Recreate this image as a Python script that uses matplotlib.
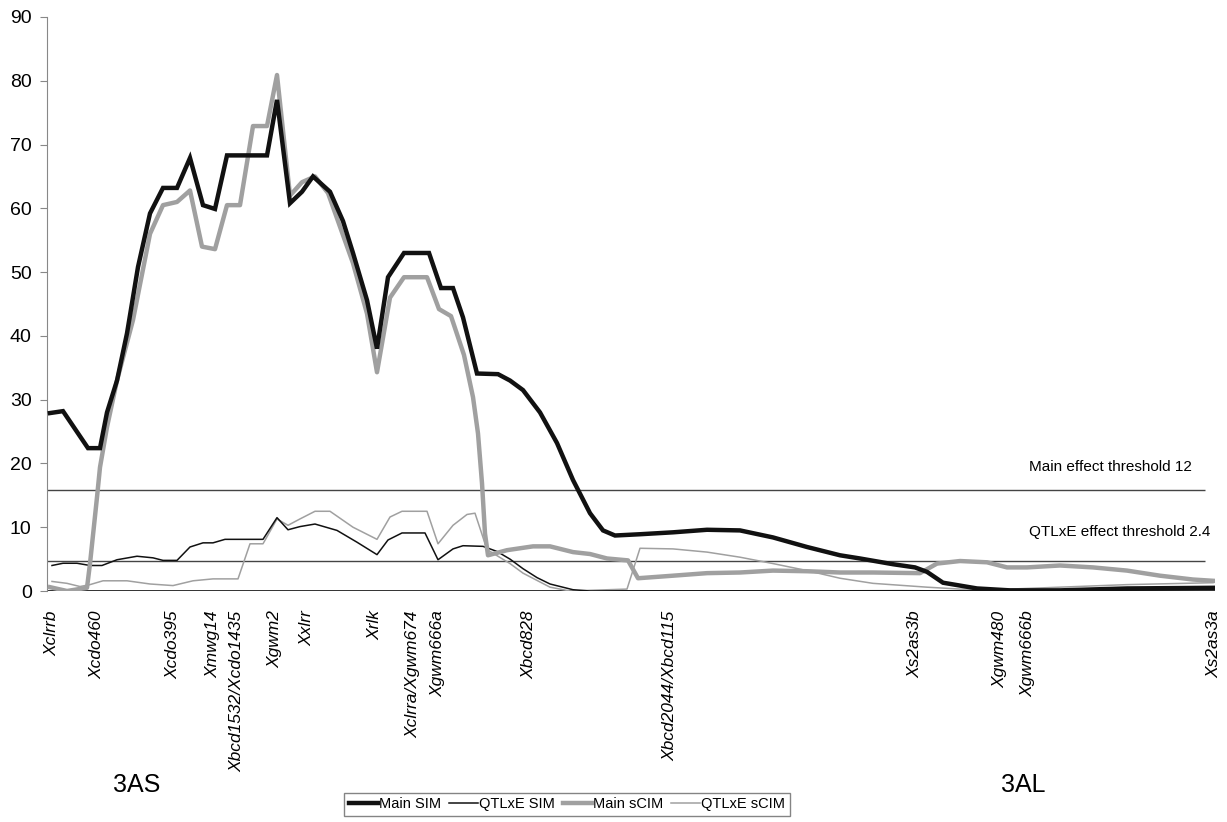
import matplotlib
matplotlib.use("Agg")
import matplotlib.pyplot as plt

# Marker positions (cM-like units) and names
marker_pos = [0.2, 4.7, 12.3, 16.3, 18.7, 22.5, 25.7, 32.5, 36.3, 38.8, 47.9, 62.0, 86.5, 95.0, 97.8, 116.4]
marker_names = ["Xclrrb", "Xcdo460", "Xcdo395", "Xmwg14", "Xbcd1532/Xcdo1435", "Xgwm2", "Xxlrr",
                "Xrlk", "Xclrra/Xgwm674", "Xgwm666a", "Xbcd828", "Xbcd2044/Xbcd115",
                "Xs2as3b", "Xgwm480", "Xgwm666b", "Xs2as3a"]

# Main SIM
main_sim_x = [0.0, 1.3, 3.8, 5.0, 5.7, 6.7, 7.7, 8.8, 10.0, 11.3, 12.7, 14.0, 15.3, 16.5, 17.7, 21.7,
              22.7, 24.0, 25.2, 26.3, 28.0, 29.3, 30.3, 31.7, 32.7, 33.8, 35.4, 37.9, 39.1, 40.3,
              41.3, 42.7, 44.8, 46.0, 47.3, 49.0, 50.7, 52.3, 54.0, 55.3, 56.5, 59.0, 62.3, 65.7,
              69.0, 72.3, 75.7, 79.0, 81.0, 84.3, 86.5, 87.7, 89.3, 92.7, 96.0, 101.0, 107.7, 116.3]
main_sim_y = [27.9, 28.2, 22.4, 22.4, 28.0, 33.0, 40.4, 50.8, 59.2, 63.2, 63.2, 67.9, 60.5, 59.9, 68.3, 68.3,
              77.0, 60.8, 62.6, 65.0, 62.6, 58.0, 53.0, 45.6, 38.0, 49.2, 53.0, 53.0, 47.5, 47.5,
              42.9, 34.1, 34.0, 33.0, 31.5, 28.0, 23.2, 17.4, 12.2, 9.5, 8.7, 8.9, 9.2, 9.6,
              9.5, 8.4, 6.9, 5.6, 5.1, 4.2, 3.7, 3.0, 1.3, 0.4, 0.1, 0.1, 0.4, 0.5]

# Main sCIM
main_scim_x = [0.0, 1.7, 3.7, 4.0, 4.7, 5.0, 5.7, 6.7, 8.3, 10.0, 11.3, 12.7, 14.0, 15.2, 16.5, 17.7,
               19.0, 20.3, 21.7, 22.7, 24.0, 25.2, 26.5, 27.8, 30.3, 31.7, 32.7, 34.0, 35.4, 37.7,
               38.9, 40.1, 41.4, 42.3, 42.8, 43.2, 43.5, 43.8, 45.7, 48.3, 50.0, 52.3, 54.0, 55.7,
               57.8, 58.8, 62.3, 65.7, 69.0, 72.3, 75.7, 79.0, 82.3, 87.0, 88.7, 91.0, 93.7, 95.7,
               97.7, 101.0, 104.3, 107.7, 111.0, 114.3, 116.3]
main_scim_y = [0.6, 0.0, 0.5, 4.3, 14.7, 19.4, 25.7, 33.0, 42.5, 56.0, 60.5, 61.0, 62.8, 54.0, 53.6, 60.5,
               60.5, 72.9, 72.9, 80.9, 62.0, 64.1, 65.0, 62.4, 51.4, 43.5, 34.3, 46.0, 49.2, 49.2,
               44.2, 43.1, 37.0, 30.4, 24.7, 16.9, 9.0, 5.6, 6.4, 7.0, 7.0, 6.1, 5.8, 5.1,
               4.8, 2.0, 2.4, 2.8, 2.9, 3.2, 3.1, 2.9, 2.9, 2.8, 4.3, 4.7, 4.5, 3.7,
               3.7, 4.0, 3.7, 3.2, 2.4, 1.8, 1.6]

# QTLxE SIM
qtle_sim_x = [0.2, 1.3, 2.7, 4.0, 5.2, 6.7, 8.7, 10.3, 11.3, 12.7, 14.0, 15.3, 16.3, 17.5, 21.3, 22.7,
              23.8, 25.0, 26.5, 28.7, 30.7, 32.7, 33.8, 35.2, 37.5, 38.8, 40.3, 41.3, 43.3, 44.7,
              46.0, 47.3, 48.7, 50.0, 52.3, 54.0, 65.0, 85.0, 95.0, 105.0, 116.3]
qtle_sim_y = [4.0, 4.35, 4.35, 4.0, 4.0, 4.9, 5.45, 5.2, 4.8, 4.8, 6.9, 7.55, 7.55, 8.1, 8.1, 11.5,
              9.6, 10.1, 10.5, 9.5, 7.65, 5.7, 8.0, 9.1, 9.1, 4.9, 6.6, 7.1, 7.0, 6.2,
              5.0, 3.5, 2.1, 1.1, 0.2, 0.0, 0.0, 0.05, 0.0, 0.1, 0.3]

# QTLxE sCIM
qtle_scim_x = [0.2, 1.7, 3.0, 4.0, 5.3, 7.7, 10.0, 12.3, 14.3, 16.3, 18.8, 20.0, 21.3, 22.7, 23.8, 25.0,
               26.5, 28.0, 30.3, 32.7, 34.0, 35.2, 37.7, 38.8, 40.3, 41.7, 42.5, 43.7, 46.0, 47.3,
               50.0, 52.0, 57.7, 59.0, 62.3, 65.7, 69.0, 72.3, 75.7, 79.0, 82.3, 87.7, 91.0, 96.0,
               101.0, 107.7, 116.3]
qtle_scim_y = [1.5, 1.2, 0.7, 1.0, 1.6, 1.6, 1.1, 0.85, 1.6, 1.9, 1.9, 7.4, 7.4, 11.3, 10.3, 11.3,
               12.5, 12.5, 10.0, 8.1, 11.6, 12.5, 12.5, 7.4, 10.3, 12.0, 12.2, 6.5, 4.3, 2.8,
               0.6, 0.0, 0.3, 6.7, 6.6, 6.1, 5.3, 4.3, 3.2, 2.0, 1.2, 0.6, 0.3, 0.3,
               0.6, 1.0, 1.3]

main_threshold = 15.8
qtle_threshold = 4.65
threshold_labels = ["Main effect threshold 12", "QTLxE effect threshold 2.4"]
arm_labels = ["3AS", "3AL"]
legend_labels = ["Main SIM", "QTLxE SIM", "Main sCIM", "QTLxE sCIM"]
yticks = [0, 10, 20, 30, 40, 50, 60, 70, 80, 90]

plt.rcParams['font.family'] = ['Liberation Sans', 'DejaVu Sans']

fig = plt.figure(figsize=(12.27, 8.22), dpi=100)
ax = fig.add_axes([47/1227, 1 - 591/822, (1215 - 47)/1227, (591 - 17)/822])

GREY = '#a0a0a0'
l1, = ax.plot(main_sim_x, main_sim_y, color='#111111', lw=3.2, solid_joinstyle='miter', zorder=5)
l2, = ax.plot(qtle_sim_x, qtle_sim_y, color='#111111', lw=1.1, zorder=4)
l3, = ax.plot(main_scim_x, main_scim_y, color=GREY, lw=3.2, zorder=4.5)
l4, = ax.plot(qtle_scim_x, qtle_scim_y, color=GREY, lw=1.1, zorder=3)

ax.hlines([main_threshold, qtle_threshold], -0.3, 115.5, color='#444444', lw=1.0, zorder=2)
ax.axhline(0, color='#222222', lw=1.3, zorder=2)

ax.text(97.9, 19.4, threshold_labels[0], fontsize=11, va='center', ha='left')
ax.text(97.9, 9.2, threshold_labels[1], fontsize=11, va='center', ha='left')

ax.set_xlim(-0.3, 116.5)
ax.set_ylim(0, 90)
ax.set_yticks(yticks)
ax.tick_params(axis='y', labelsize=14, length=5, width=0.8, color='#888888', pad=6)
ax.set_xticks(marker_pos)
ax.set_xticklabels(marker_names, rotation=90, style='italic', fontsize=12.5)
ax.tick_params(axis='x', length=0, pad=14)

for s in ['top', 'right', 'bottom']:
    ax.spines[s].set_visible(False)
ax.spines['left'].set_color('#888888')
ax.spines['left'].set_linewidth(0.8)

fig.text(137/1227, 1 - 785/822, arm_labels[0], fontsize=18, ha='center', va='center')
fig.text(1023/1227, 1 - 785/822, arm_labels[1], fontsize=18, ha='center', va='center')

leg = fig.legend([l1, l2, l3, l4], legend_labels, loc='upper center',
                 bbox_to_anchor=(567/1227, 1 - 793/822), ncol=4, fontsize=10.5,
                 handlelength=2.0, handletextpad=0.1, columnspacing=0.5,
                 borderpad=0.3, borderaxespad=0.0, frameon=True, fancybox=False)
leg.get_frame().set_edgecolor('#666666')
leg.get_frame().set_linewidth(1.0)

fig.savefig('out.png', dpi=100)
